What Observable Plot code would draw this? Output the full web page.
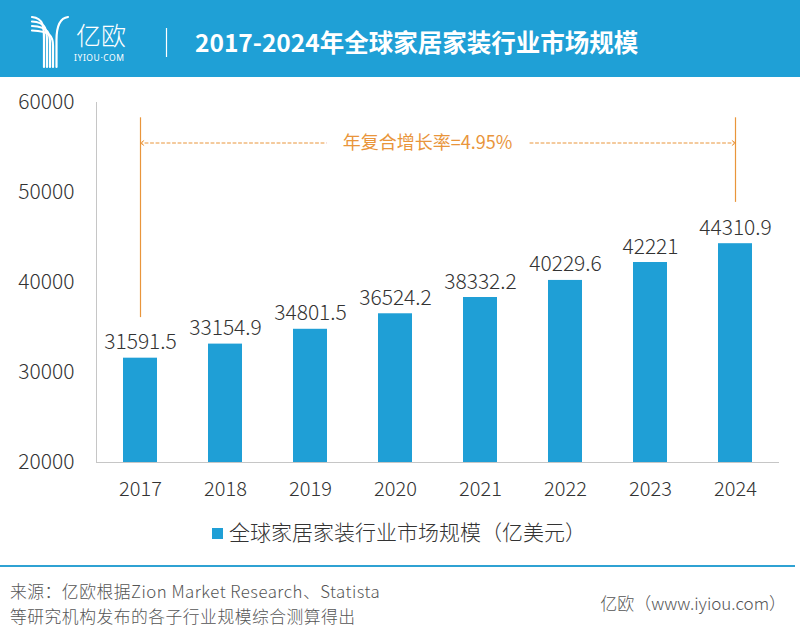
<!DOCTYPE html>
<html>
<head>
<meta charset="utf-8">
<script src="https://cdn.jsdelivr.net/npm/d3@7"></script>
<script src="https://cdn.jsdelivr.net/npm/@observablehq/plot@0.6"></script>
<style>
  html, body { margin: 0; padding: 0; background: #fff; }
  body { width: 800px; height: 634px; position: relative; overflow: hidden; font-family: "Noto Sans CJK SC", "Noto Sans", sans-serif; }
  #header { position: absolute; left: 0; top: 0; width: 800px; height: 77px; background: #1fa0d6; }
  #title { position: absolute; left: 195px; top: 24px; color: #fff; font-size: 24.5px; font-weight: 700; line-height: 36px; white-space: nowrap; }
  #chart { position: absolute; left: 0; top: 78px; }
  #legend { position: absolute; left: 212px; top: 517px; font-size: 21px; font-weight: 300; color: #333; white-space: nowrap; line-height: 28px; }
  #legend .sw { display: inline-block; width: 11px; height: 11px; background: #1f9fd6; margin-right: 6px; vertical-align: 1px; }
  #sep { position: absolute; left: 0; top: 565px; width: 795px; height: 2px; background: #2fa2d3; }
  #source { position: absolute; left: 10px; top: 579px; font-size: 16.8px; font-weight: 300; color: #555; line-height: 24.5px; letter-spacing: 0.5px; white-space: nowrap; }
  #source div { height: 24.5px; }
  #credit { position: absolute; right: 14px; top: 591px; font-size: 17px; font-weight: 300; color: #555; line-height: 24px; white-space: nowrap; }
</style>
</head>
<body>
<div id="header">
  <svg width="800" height="77" style="position:absolute;left:0;top:0">
    <g fill="none" stroke="#fff" stroke-width="2.2" stroke-linecap="round">
      <path d="M32,17 C44,18 44,28 44,40 L44,67"/>
      <path d="M32,21.5 C46.5,22 47,31 47,42 L47,67"/>
      <path d="M32,26 C49,26.5 50,34 50,44 L50,67"/>
      <path d="M32,30.5 C51,31 53,37 53,46 L53,67"/>
      <path d="M68,17 C60,18 56.5,27 56.5,40 L56.5,67"/>
    </g>
    <text x="76" y="45" fill="#fff" font-size="25" font-weight="300" font-family="Noto Sans CJK SC">亿欧</text>
    <text x="74" y="61" fill="#fff" font-size="8.5" letter-spacing="0.6" font-family="Noto Sans">IYIOU·COM</text>
    <line x1="166.5" y1="28" x2="166.5" y2="57" stroke="#fff" stroke-width="1.2"/>
  </svg>
  <div id="title">2017-2024年全球家居家装行业市场规模</div>
</div>
<div id="chart"></div>
<div id="legend"><span class="sw"></span>全球家居家装行业市场规模（亿美元）</div>
<div id="sep"></div>
<div id="source"><div>来源：亿欧根据Zion Market Research、Statista</div><div>等研究机构发布的各子行业规模综合测算得出</div></div>
<div id="credit">亿欧（www.iyiou.com）</div>
<script>
// ---- data ----
const years = ["2017", "2018", "2019", "2020", "2021", "2022", "2023", "2024"];
const values = [31591.5, 33154.9, 34801.5, 36524.2, 38332.2, 40229.6, 42221, 44310.9];
const valueLabels = ["31591.5", "33154.9", "34801.5", "36524.2", "38332.2", "40229.6", "42221", "44310.9"];
const yTicks = [20000, 30000, 40000, 50000, 60000];
const yDomain = [20000, 60000];
const cagrYears = ["2017", "2024"];
const cagrLineBottom = [36100, 48900];
const cagrLineTop = 58300;
const cagrArrowY = 55500;
const cagrText = "年复合增长率=4.95%";
const cagrTextYear = "2020";
const cagrArrowInner = ["2020", "2021"];

// ---- build ----
const barColor = "#1f9fd6";
const orange = "#e9953b";
const data = years.map((year, i) => ({year, value: values[i], label: valueLabels[i]}));
const cagrRules = cagrYears.map((year, i) => ({year, bottom: cagrLineBottom[i], top: cagrLineTop}));
const cagrArrows = cagrYears.map((year, i) => ({from: cagrArrowInner[i], to: year, y: cagrArrowY}));
const cagrLabel = [{year: cagrTextYear, y: cagrArrowY, text: cagrText}];

const chart = Plot.plot({
  width: 800,
  height: 434,
  marginTop: 24,
  marginLeft: 96,
  marginRight: 22,
  marginBottom: 50,
  style: {fontFamily: "'Noto Sans CJK SC', 'Noto Sans', sans-serif", background: "transparent", color: "#404040"},
  x: {domain: years, paddingInner: 0.6, paddingOuter: 0.3, label: null},
  y: {domain: yDomain, label: null},
  marks: [
    Plot.frame({anchor: "left", stroke: "#c6c6c6"}),
    Plot.frame({anchor: "bottom", stroke: "#c6c6c6"}),
    Plot.axisY({ticks: yTicks, tickSize: 0, tickPadding: 22, fontSize: 21, fontWeight: 300, label: null, tickFormat: d => String(d), fill: "#333"}),
    Plot.axisX({tickSize: 0, tickPadding: 19, fontSize: 20, fontWeight: 300, label: null, fill: "#333"}),
    Plot.barY(data, {x: "year", y1: yDomain[0], y2: "value", fill: barColor}),
    Plot.text(data, {x: "year", y: "value", text: "label", lineAnchor: "bottom", dy: -9, fontSize: 21, fontWeight: 300, fill: "#333"}),
    Plot.ruleX(cagrRules, {x: "year", y1: "bottom", y2: "top", stroke: orange, strokeWidth: 1.2}),
    Plot.arrow(cagrArrows, {x1: "from", x2: "to", y1: "y", y2: "y", stroke: orange, strokeWidth: 1, strokeDasharray: "3,2.5", headLength: 6, headAngle: 70}),
    Plot.text(cagrLabel, {x: "year", y: "y", text: "text", dx: 32, fontSize: 18, fill: orange, stroke: "#fff", strokeWidth: 34})
  ]
});
document.getElementById("chart").appendChild(chart);
</script>
</body>
</html>
